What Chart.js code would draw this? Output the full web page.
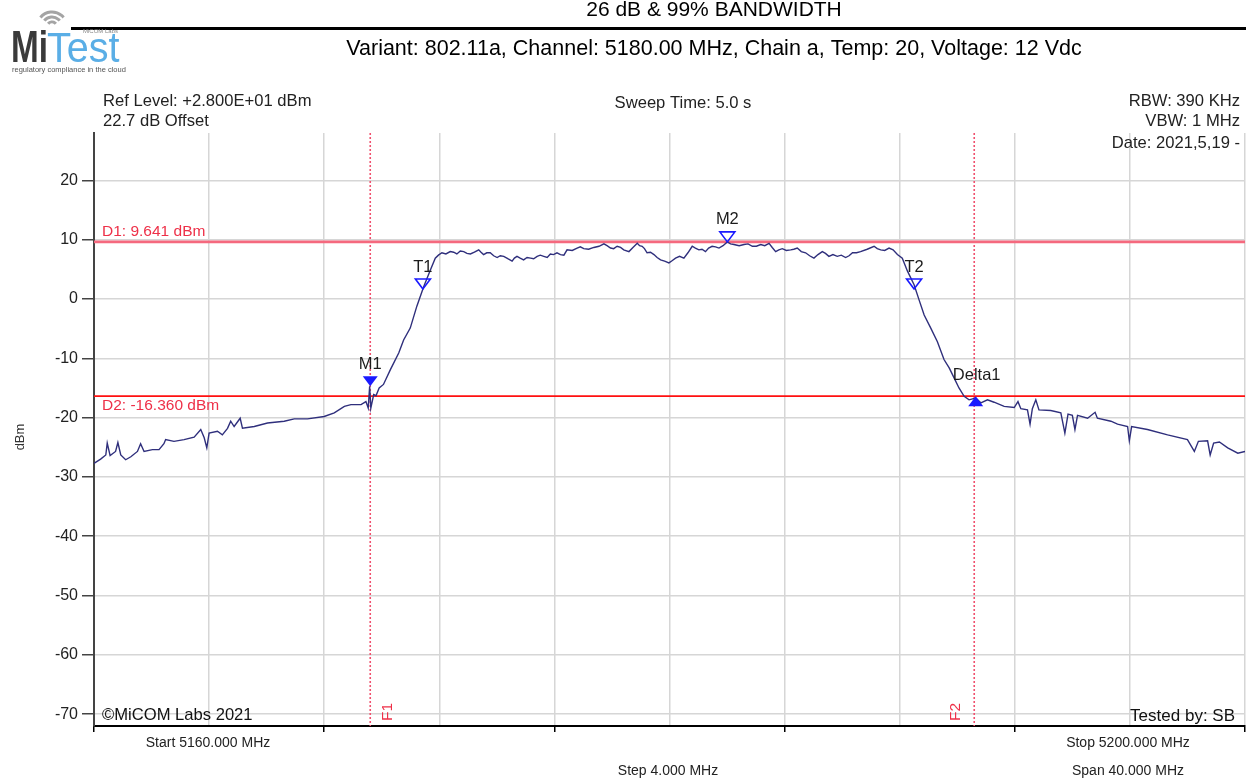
<!DOCTYPE html>
<html>
<head>
<meta charset="utf-8">
<title>26 dB &amp; 99% Bandwidth</title>
<script src="https://cdn.jsdelivr.net/npm/chart.js@4/dist/chart.umd.min.js"></script>
<style>
  html, body { margin: 0; padding: 0; background: #fff; }
  canvas { display: block; }
</style>
</head>
<body>
<canvas id="myChart" width="1246" height="782"></canvas>
<script>
// spectrum trace, frequency in MHz and level in dBm
const freqMHz = [
  // lower skirt
  5160.00, 5160.23, 5160.41, 5160.46, 5160.56, 5160.75, 5160.83, 5160.93, 5161.10, 5161.28,
  5161.51, 5161.62, 5161.74, 5162.03, 5162.26, 5162.43, 5162.49, 5162.78, 5163.13, 5163.48,
  5163.71, 5163.83, 5163.92, 5164.00, 5164.29, 5164.46, 5164.64, 5164.75, 5164.87, 5165.08,
  5165.16, 5165.57, 5166.03, 5166.61, 5166.96, 5167.42, 5168.00, 5168.35, 5168.70, 5168.93,
  5169.28, 5169.45, 5169.53, 5169.58, 5169.62, 5169.72, 5169.80, 5169.91,
  // rising edge
  5170.06, 5170.30, 5170.59, 5170.76, 5170.99, 5171.22, 5171.46, 5171.69,
  // channel top
  5171.86, 5171.97, 5172.09, 5172.23, 5172.38, 5172.50, 5172.61, 5172.73, 5172.85, 5172.96,
  5173.08, 5173.22, 5173.37, 5173.45, 5173.54, 5173.65, 5173.77, 5173.89, 5174.01, 5174.12,
  5174.24, 5174.38, 5174.53, 5174.61, 5174.70, 5174.81, 5174.93, 5175.05, 5175.17, 5175.28,
  5175.40, 5175.51, 5175.63, 5175.75, 5175.86, 5175.97, 5176.09, 5176.21, 5176.33, 5176.44,
  5176.62, 5176.79, 5176.90, 5177.02, 5177.19, 5177.37, 5177.55, 5177.72, 5177.83, 5177.95,
  5178.06, 5178.18, 5178.30, 5178.41, 5178.59, 5178.73, 5178.88, 5178.96, 5179.05, 5179.13,
  5179.22, 5179.34, 5179.46, 5179.57, 5179.69, 5179.83, 5179.98, 5180.10, 5180.21, 5180.35,
  5180.50, 5180.64, 5180.79, 5180.90, 5181.02, 5181.13, 5181.25, 5181.36, 5181.48, 5181.60,
  5181.72, 5181.86, 5182.01, 5182.12, 5182.24, 5182.42, 5182.59, 5182.73, 5182.88, 5183.02,
  5183.17, 5183.31, 5183.46, 5183.57, 5183.69, 5183.80, 5183.92, 5184.06, 5184.21, 5184.32,
  5184.44, 5184.58, 5184.73, 5184.87, 5185.02, 5185.16, 5185.31, 5185.42, 5185.54, 5185.68,
  5185.83, 5185.97, 5186.12, 5186.24, 5186.36, 5186.50, 5186.64, 5186.87, 5187.11, 5187.22,
  5187.34, 5187.48, 5187.63, 5187.77, 5187.92, 5188.09,
  // falling edge
  5188.27, 5188.50, 5188.67, 5188.85, 5189.08, 5189.31, 5189.54, 5189.72, 5189.89, 5190.06,
  5190.24, 5190.41, 5190.64,
  // upper skirt
  5190.82, 5191.05, 5191.28, 5191.63, 5191.98, 5192.11, 5192.21, 5192.44, 5192.53, 5192.61,
  5192.73, 5192.84, 5193.25, 5193.60, 5193.74, 5193.85, 5194.00, 5194.09, 5194.18, 5194.53,
  5194.79, 5194.87, 5195.34, 5195.57, 5195.92, 5195.98, 5196.06, 5196.61, 5197.31, 5198.00,
  5198.24, 5198.38, 5198.70, 5198.79, 5198.91, 5199.11, 5199.40, 5199.75, 5200.00
];
const levelDbm = [
  // lower skirt
  -27.7, -27.0, -26.3, -24.3, -26.4, -25.7, -24.2, -26.3, -27.1, -26.6,
  -25.7, -24.4, -25.7, -25.4, -25.4, -24.4, -23.7, -24.0, -23.7, -23.3,
  -22.0, -23.4, -25.1, -22.6, -22.3, -22.9, -21.8, -20.6, -21.5, -20.1,
  -21.8, -21.5, -20.9, -20.6, -20.2, -20.2, -19.8, -19.2, -18.1, -17.8,
  -17.8, -17.3, -18.4, -14.7, -18.4, -16.1, -16.3, -15.0,
  // rising edge
  -14.4, -11.9, -9.1, -6.9, -4.9, -1.2, 2.1, 4.9,
  // channel top
  6.9, 7.4, 7.8, 7.6, 8.0, 7.9, 7.6, 8.1, 8.0, 7.7,
  7.6, 7.9, 8.3, 7.9, 7.5, 7.8, 7.8, 7.3, 7.0, 7.3,
  7.2, 6.8, 6.4, 6.9, 7.2, 6.9, 6.6, 7.0, 6.9, 6.8,
  7.2, 7.4, 7.2, 7.0, 7.6, 7.5, 7.8, 7.5, 7.4, 8.3,
  8.2, 8.6, 8.8, 8.5, 8.4, 8.7, 8.9, 9.3, 9.0, 8.6,
  8.5, 8.9, 8.7, 8.3, 8.0, 8.7, 9.4, 9.0, 8.9, 8.5,
  7.8, 7.9, 7.5, 7.0, 6.6, 6.4, 6.1, 6.5, 6.9, 7.2,
  6.9, 7.8, 8.9, 8.6, 8.3, 8.4, 8.0, 8.6, 8.9, 8.8,
  8.6, 9.0, 9.641, 9.3, 9.2, 9.0, 9.2, 9.3, 8.9, 8.9,
  9.2, 9.0, 9.4, 8.7, 8.0, 8.3, 8.5, 8.2, 8.3, 8.4,
  8.6, 8.0, 7.8, 7.3, 6.9, 7.5, 8.0, 7.7, 7.2, 7.5,
  7.2, 7.4, 7.0, 7.3, 7.8, 7.8, 8.0, 8.4, 8.9, 8.5,
  8.3, 8.2, 8.6, 8.3, 7.5, 6.9,
  // falling edge
  4.7, 2.4, -0.1, -2.7, -4.9, -7.2, -10.2, -11.6, -13.3, -15.0,
  -16.4, -17.0, -16.7,
  // upper skirt
  -17.5, -17.0, -17.4, -18.1, -18.3, -17.3, -18.5, -18.7, -21.1, -18.5,
  -17.0, -18.7, -18.8, -19.2, -22.6, -19.4, -19.6, -22.0, -19.6, -20.1,
  -19.1, -20.1, -20.6, -21.1, -21.5, -23.9, -21.5, -22.0, -22.9, -23.7,
  -25.7, -24.0, -23.9, -26.3, -24.3, -24.1, -25.1, -26.0, -25.7
];

// axis ticks
const xGridMHz = [5160, 5164, 5168, 5172, 5176, 5180, 5184, 5188, 5192, 5196, 5200];
const yTicksDbm = [-70, -60, -50, -40, -30, -20, -10, 0, 10, 20];

// display lines (D = level, F = frequency)
const d1Level = 9.641;
const d2Level = -16.360;
const f1Freq = 5169.60;
const f2Freq = 5190.59;

// trace markers
const markerNames = ['M1', 'T1', 'M2', 'T2', 'Delta1'];
const markerFreq = [5169.60, 5171.43, 5182.01, 5188.50, 5190.64];
const markerLevel = [-14.7, 1.7, 9.641, 1.7, -16.4];

const FONT = '"Liberation Sans", Arial, sans-serif';
const Y_MIN = -72, Y_MAX = 28;

function hLine(level, color, width) {
  return {
    data: [{ x: 5160, y: level }, { x: 5200, y: level }],
    borderColor: color, borderWidth: width, pointRadius: 0, tension: 0
  };
}
function vLine(freq) {
  return {
    data: [{ x: freq, y: Y_MAX }, { x: freq, y: Y_MIN }],
    borderColor: '#f0506e', borderWidth: 1.6, borderDash: [2, 2], pointRadius: 0
  };
}

function txt(ctx, s, x, y, size, color, align) {
  ctx.font = size + 'px ' + FONT;
  ctx.fillStyle = color;
  ctx.textAlign = align || 'left';
  ctx.textBaseline = 'middle';
  ctx.fillText(s, x, y);
}

function drawLogo(ctx) {
  ctx.save();
  // wifi arcs over the "i"
  ctx.strokeStyle = '#a4a4a4';
  ctx.lineWidth = 3;
  [5, 10, 15].forEach(function (r) {
    ctx.beginPath();
    ctx.arc(52, 27, r, Math.PI * 1.22, Math.PI * 1.78);
    ctx.stroke();
  });
  ctx.textAlign = 'left';
  ctx.textBaseline = 'alphabetic';
  ctx.save();
  ctx.translate(11, 62);
  ctx.scale(0.74, 1);
  ctx.font = 'bold 45px ' + FONT;
  ctx.fillStyle = '#3a3a3a';
  ctx.fillText('Mi', 0, 0);
  ctx.restore();
  ctx.save();
  ctx.translate(47, 62);
  ctx.scale(0.92, 1);
  ctx.font = '43px ' + FONT;
  ctx.fillStyle = '#5aaee6';
  ctx.fillText('Test', 0, 0);
  ctx.restore();
  ctx.restore();
  txt(ctx, 'MiCOM Labs', 83, 31, 6, '#888', 'left');
  txt(ctx, 'regulatory compliance in the cloud', 12, 70, 7.5, '#555', 'left');
}

const decorations = {
  id: 'decorations',
  beforeDraw(chart) {
    const ctx = chart.ctx;
    ctx.save();
    ctx.fillStyle = '#fff';
    ctx.fillRect(0, 0, chart.width, chart.height);
    ctx.restore();
  },
  afterDatasetsDraw(chart) {
    const ctx = chart.ctx;
    const xs = chart.scales.x, ys = chart.scales.y;
    ctx.save();

    // D1 / D2 captions
    txt(ctx, 'D1: ' + d1Level.toFixed(3) + ' dBm', 102, ys.getPixelForValue(d1Level) - 10, 15.5, '#ee3048');
    txt(ctx, 'D2: ' + d2Level.toFixed(3) + ' dBm', 102, ys.getPixelForValue(d2Level) + 10, 15.5, '#ee3048');

    // F1 / F2 captions, rotated
    [[f1Freq, 'F1', 17], [f2Freq, 'F2', -19]].forEach(function (f) {
      ctx.save();
      ctx.translate(xs.getPixelForValue(f[0]) + f[2], 712);
      ctx.rotate(-Math.PI / 2);
      txt(ctx, f[1], 0, 0, 15.5, '#ee3048', 'center');
      ctx.restore();
    });

    // markers
    markerNames.forEach(function (name, i) {
      const px = xs.getPixelForValue(markerFreq[i]);
      const py = ys.getPixelForValue(markerLevel[i]);
      const filled = name === 'M1' || name === 'Delta1';
      const up = name === 'Delta1';
      ctx.beginPath();
      if (up) {
        ctx.moveTo(px, py);
        ctx.lineTo(px - 7.5, py + 10);
        ctx.lineTo(px + 7.5, py + 10);
      } else {
        ctx.moveTo(px, py);
        ctx.lineTo(px - 7.5, py - 10);
        ctx.lineTo(px + 7.5, py - 10);
      }
      ctx.closePath();
      if (filled) {
        ctx.fillStyle = '#1a1aff';
        ctx.fill();
      } else {
        ctx.strokeStyle = '#1a1aff';
        ctx.lineWidth = 1.6;
        ctx.stroke();
      }
      const ly = up ? py - 21 : py - 22;
      txt(ctx, name, px + (up ? 1 : 0), ly, 16.5, '#1c1c1c', 'center');
    });
    ctx.restore();
  },
  afterDraw(chart) {
    const ctx = chart.ctx;
    ctx.save();

    // header
    txt(ctx, '26 dB & 99% BANDWIDTH', 714, 10, 21, '#000', 'center');
    ctx.fillStyle = '#000';
    ctx.fillRect(71, 27, 1175, 3);
    txt(ctx, 'Variant: 802.11a, Channel: 5180.00 MHz, Chain a, Temp: 20, Voltage: 12 Vdc', 714, 49, 21.5, '#000', 'center');
    drawLogo(ctx);

    // measurement settings
    txt(ctx, 'Ref Level: +2.800E+01 dBm', 103, 101, 16.6, '#222');
    txt(ctx, '22.7 dB Offset', 103, 121, 16.6, '#222');
    txt(ctx, 'Sweep Time: 5.0 s', 683, 103, 16.6, '#222', 'center');
    txt(ctx, 'RBW: 390 KHz', 1240, 101, 16.6, '#222', 'right');
    txt(ctx, 'VBW: 1 MHz', 1240, 121, 16.6, '#222', 'right');
    txt(ctx, 'Date: 2021,5,19 -', 1240, 143, 16.6, '#222', 'right');

    // footer inside the plot
    txt(ctx, '\u00A9MiCOM Labs 2021', 102, 715, 16.6, '#111');
    txt(ctx, 'Tested by: SB', 1235, 716, 17, '#111', 'right');

    // frequency annotations under the axis
    txt(ctx, 'Start 5160.000 MHz', 208, 743, 14, '#222', 'center');
    txt(ctx, 'Stop 5200.000 MHz', 1128, 743, 14, '#222', 'center');
    txt(ctx, 'Step 4.000 MHz', 668, 771, 14, '#222', 'center');
    txt(ctx, 'Span 40.000 MHz', 1128, 771, 14, '#222', 'center');

    // y axis title
    ctx.save();
    ctx.translate(20, 437);
    ctx.rotate(-Math.PI / 2);
    txt(ctx, 'dBm', 0, 0, 13, '#333', 'center');
    ctx.restore();

    ctx.restore();
  }
};

const traceData = freqMHz.map(function (f, i) { return { x: f, y: levelDbm[i] }; });

const config = {
  type: 'line',
  data: {
    datasets: [
      { data: traceData, borderColor: '#2f2f7c', borderWidth: 1.4, pointRadius: 0, tension: 0 },
      hLine(d1Level, '#f5697e', 2.6),
      hLine(d2Level, '#ff1010', 1.8),
      vLine(f1Freq),
      vLine(f2Freq)
    ]
  },
  options: {
    responsive: false,
    devicePixelRatio: 1,
    animation: false,
    layout: { padding: { top: 133, right: 1, left: 0, bottom: 0 } },
    plugins: { legend: { display: false }, tooltip: { enabled: false } },
    scales: {
      x: {
        type: 'linear',
        min: 5160,
        max: 5200,
        afterBuildTicks: function (s) { s.ticks = xGridMHz.map(function (v) { return { value: v }; }); },
        afterFit: function (s) { s.height = 56; },
        ticks: { display: false },
        grid: {
          color: '#d6d6d6',
          lineWidth: 1.5,
          tickLength: 6,
          tickColor: function (c) { return c.index % 2 === 0 ? '#000' : 'rgba(0,0,0,0)'; }
        },
        border: { color: '#000', width: 2 }
      },
      y: {
        min: Y_MIN,
        max: Y_MAX,
        afterBuildTicks: function (s) { s.ticks = yTicksDbm.map(function (v) { return { value: v }; }); },
        afterFit: function (s) { s.width = 94; },
        ticks: { color: '#222', padding: 4, font: { size: 16, family: FONT } },
        grid: { color: '#d6d6d6', lineWidth: 1.5, tickLength: 12, tickColor: '#444' },
        border: { color: '#444', width: 2 }
      }
    }
  },
  plugins: [decorations]
};

const myChart = new Chart(document.getElementById('myChart'), config);
</script>
</body>
</html>
